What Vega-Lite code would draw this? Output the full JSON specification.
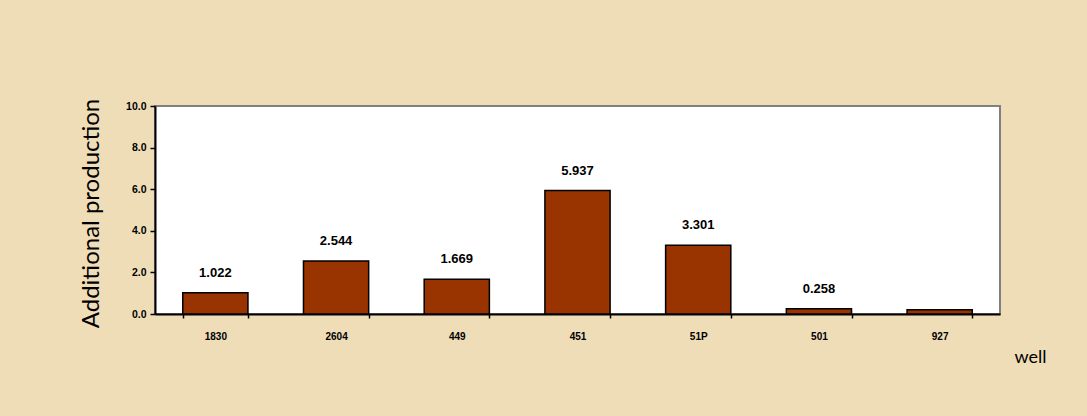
{
  "$schema": "https://vega.github.io/schema/vega-lite/v6.json",
  "width": 845,
  "height": 208,
  "autosize": {"type": "none"},
  "padding": {"left": 155, "top": 106, "right": 87, "bottom": 102},
  "background": "#EFDDB8",
  "config": {
    "view": {"stroke": "#808080", "strokeWidth": 2, "fill": "#FFFFFF"},
    "font": "Liberation Sans"
  },
  "data": {
    "values": [
      {"well": "1830", "production": 1.022, "label": "1.022"},
      {"well": "2604", "production": 2.544, "label": "2.544"},
      {"well": "449", "production": 1.669, "label": "1.669"},
      {"well": "451", "production": 5.937, "label": "5.937"},
      {"well": "51P", "production": 3.301, "label": "3.301"},
      {"well": "501", "production": 0.258, "label": "0.258"},
      {"well": "927", "production": 0.2, "label": ""}
    ]
  },
  "encoding": {
    "x": {
      "field": "well",
      "type": "nominal",
      "sort": null,
      "scale": {"paddingInner": 0.46, "paddingOuter": 0.23},
      "axis": {
        "title": "well",
        "titleFont": "Lato",
        "titleFontSize": 18,
        "titleFontWeight": "normal",
        "titleColor": "#000000",
        "titleX": 875,
        "titleY": 43,
        "titleAlign": "center",
        "titleBaseline": "middle",
        "labelAngle": 0,
        "labelFont": "Liberation Sans",
        "labelFontWeight": "bold",
        "labelFontSize": 10,
        "labelColor": "#000000",
        "labelPadding": 13,
        "tickBand": "extent",
        "tickSize": 4,
        "tickColor": "#000000",
        "tickWidth": 1.5,
        "domainColor": "#000000",
        "domainWidth": 2,
        "grid": false
      }
    },
    "y": {
      "field": "production",
      "type": "quantitative",
      "scale": {"domain": [0, 10], "nice": false},
      "axis": {
        "title": "Additional production",
        "titleFont": "Lato",
        "titleFontSize": 24,
        "titleFontWeight": "normal",
        "titleColor": "#000000",
        "titleAngle": -90,
        "titleX": -64,
        "titleY": 107,
        "titleAlign": "center",
        "titleBaseline": "middle",
        "values": [0, 2, 4, 6, 8, 10],
        "format": ".1f",
        "labelFont": "Liberation Sans",
        "labelFontWeight": "bold",
        "labelFontSize": 10.5,
        "labelColor": "#000000",
        "labelPadding": 4,
        "tickSize": 5,
        "tickColor": "#000000",
        "tickWidth": 1.5,
        "domainColor": "#000000",
        "domainWidth": 2,
        "grid": false
      }
    }
  },
  "layer": [
    {
      "mark": {"type": "bar", "fill": "#993300", "stroke": "#000000", "strokeWidth": 1.5}
    },
    {
      "mark": {
        "type": "text",
        "font": "Liberation Sans",
        "fontWeight": "bold",
        "fontSize": 13,
        "color": "#000000",
        "baseline": "alphabetic",
        "dy": -16
      },
      "encoding": {"text": {"field": "label"}}
    }
  ]
}
